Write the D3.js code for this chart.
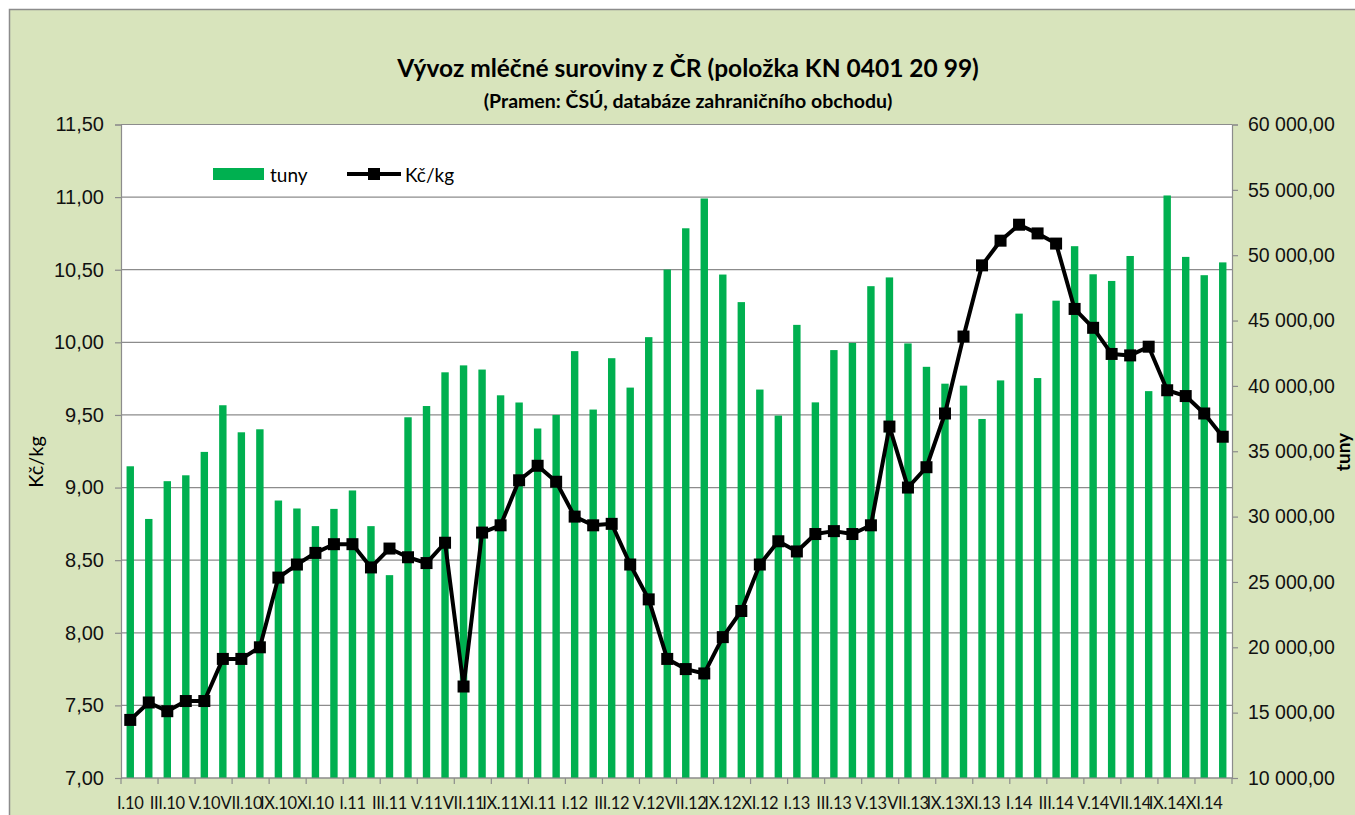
<!DOCTYPE html>
<html>
<head>
<meta charset="utf-8">
<script src="https://cdn.jsdelivr.net/npm/d3@7"></script>
<style>
  body { margin: 0; background: #fff; }
  svg { display: block; font-family: Lato, "Noto Sans", sans-serif; }
  .grid line { stroke: #8c8c8c; stroke-width: 1.2; }
  .axis path, .axis line { stroke: #8c8c8c; stroke-width: 1.2; }
  .axis text { fill: #111; }
</style>
</head>
<body>
<script>
var width = 1355,
    height = 815;

// months I.10 .. XII.14
var roman = ["I", "II", "III", "IV", "V", "VI", "VII", "VIII", "IX", "X", "XI", "XII"];
var years = ["10", "11", "12", "13", "14"];
var months = [];
years.forEach(function(y) {
  roman.forEach(function(r) { months.push(r + "." + y); });
});

// export volume, tonnes (right axis)
var tuny = [33850, 29820, 32710, 33160, 34950, 38520, 36450, 36680, 31230, 30620,
            29270, 30590, 32000, 29270, 25520, 37600, 38460, 41040, 41570, 41250,
            39280, 38730, 36740, 37780, 42660, 38190, 42120, 39870, 43730, 48900,
            52060, 54340, 48520, 46410, 39720, 37730, 44670, 38740, 42740, 43290,
            47630, 48300, 43250, 41460, 40170, 40020, 37470, 40420, 45530, 40600,
            46520, 50690, 48540, 48030, 49940, 39600, 54570, 49870, 48470, 49450];

// price, Kč/kg (left axis)
var kc = [7.40, 7.52, 7.46, 7.53, 7.53, 7.82, 7.82, 7.90, 8.38, 8.47,
          8.55, 8.61, 8.61, 8.45, 8.58, 8.52, 8.48, 8.62, 7.63, 8.69,
          8.74, 9.05, 9.15, 9.04, 8.80, 8.74, 8.75, 8.47, 8.23, 7.82,
          7.75, 7.72, 7.97, 8.15, 8.47, 8.63, 8.56, 8.68, 8.70, 8.68,
          8.74, 9.42, 9.00, 9.14, 9.51, 10.04, 10.53, 10.70, 10.81, 10.75,
          10.68, 10.23, 10.10, 9.92, 9.91, 9.97, 9.67, 9.63, 9.51, 9.35];

var leftTicks = d3.range(7, 11.51, 0.5);
var rightTicks = d3.range(10000, 60001, 5000);

var cz = d3.formatLocale({decimal: ",", thousands: "\u00a0", grouping: [3], currency: ["", " Kč"]});
var fmt = cz.format(",.2f");

var plot = {left: 121, right: 1232, top: 124.5, bottom: 778};

var x = d3.scaleBand()
    .domain(months)
    .range([plot.left, plot.right])
    .paddingInner(0.6)
    .paddingOuter(0.3);

var yL = d3.scaleLinear().domain([7, 11.5]).range([plot.bottom, plot.top]);
var yR = d3.scaleLinear().domain([10000, 60000]).range([plot.bottom, plot.top]);

var svg = d3.select("body").append("svg")
    .attr("width", width)
    .attr("height", height);

// chart frame
svg.append("rect")
    .attr("x", 9.5).attr("y", 9.5)
    .attr("width", 1400).attr("height", 900)
    .attr("fill", "#d8e4bc")
    .attr("stroke", "#8c8c8c")
    .attr("stroke-width", 1.5);

svg.append("rect")
    .attr("x", plot.left).attr("y", plot.top)
    .attr("width", plot.right - plot.left)
    .attr("height", plot.bottom - plot.top)
    .attr("fill", "#fff");

// horizontal grid on the left axis
svg.append("g")
    .attr("class", "grid")
    .selectAll("line")
    .data(leftTicks)
    .enter()
    .append("line")
    .attr("x1", plot.left).attr("x2", plot.right)
    .attr("y1", function(d) { return yL(d); })
    .attr("y2", function(d) { return yL(d); });

// bars
svg.append("g")
    .selectAll("rect")
    .data(tuny)
    .enter()
    .append("rect")
    .attr("x", function(d, i) { return x(months[i]); })
    .attr("y", function(d) { return yR(d); })
    .attr("width", x.bandwidth())
    .attr("height", function(d) { return plot.bottom - yR(d); })
    .attr("fill", "#00b050");

// price line
var line = d3.line()
    .x(function(d, i) { return x(months[i]) + x.bandwidth() / 2; })
    .y(function(d) { return yL(d); });

svg.append("path")
    .datum(kc)
    .attr("d", line)
    .attr("fill", "none")
    .attr("stroke", "#000")
    .attr("stroke-width", 4)
    .attr("stroke-linejoin", "round");

var ms = 12;
svg.append("g")
    .selectAll("rect")
    .data(kc)
    .enter()
    .append("rect")
    .attr("x", function(d, i) { return x(months[i]) + x.bandwidth() / 2 - ms / 2; })
    .attr("y", function(d) { return yL(d) - ms / 2; })
    .attr("width", ms)
    .attr("height", ms)
    .attr("fill", "#000");

// axes
var axL = svg.append("g")
    .attr("class", "axis")
    .attr("transform", "translate(" + plot.left + ",0)")
    .call(d3.axisLeft(yL).tickValues(leftTicks).tickFormat(fmt).tickSizeOuter(0).tickSize(6).tickPadding(11));
axL.selectAll("text").style("font-size", "20px");

var axR = svg.append("g")
    .attr("class", "axis")
    .attr("transform", "translate(" + plot.right + ",0)")
    .call(d3.axisRight(yR).tickValues(rightTicks).tickFormat(fmt).tickSizeOuter(0).tickSize(6).tickPadding(10));
axR.selectAll("text").style("font-size", "19.5px");

// x axis: ticks every second month, labels on every second month
var axX = svg.append("g")
    .attr("class", "axis")
    .attr("transform", "translate(0," + plot.bottom + ")");
axX.append("line")
    .attr("x1", plot.left).attr("x2", plot.right);
axX.selectAll(".tick")
    .data(d3.range(0, months.length + 1, 2))
    .enter()
    .append("line")
    .attr("x1", function(i) { return plot.left + i * x.step(); })
    .attr("x2", function(i) { return plot.left + i * x.step(); })
    .attr("y1", 0).attr("y2", 6);
axX.selectAll("text")
    .data(months.filter(function(d, i) { return i % 2 === 0; }))
    .enter()
    .append("text")
    .attr("x", function(d) { return x(d) + x.bandwidth() / 2; })
    .attr("y", 31)
    .attr("text-anchor", "middle")
    .style("font-size", "16.5px")
    .style("letter-spacing", "-0.3px")
    .text(function(d) { return d; });

// titles
svg.append("text")
    .attr("x", 688).attr("y", 77)
    .attr("text-anchor", "middle")
    .style("font-size", "24.5px").style("font-weight", "bold")
    .text("Vývoz mléčné suroviny z ČR (položka KN 0401 20 99)");

svg.append("text")
    .attr("x", 688).attr("y", 108)
    .attr("text-anchor", "middle")
    .style("font-size", "19.5px").style("font-weight", "bold")
    .text("(Pramen: ČSÚ, databáze zahraničního obchodu)");

svg.append("text")
    .attr("transform", "translate(43,462) rotate(-90)")
    .attr("text-anchor", "middle")
    .style("font-size", "20px")
    .text("Kč/kg");

svg.append("text")
    .attr("transform", "translate(1350,452) rotate(-90)")
    .attr("text-anchor", "middle")
    .style("font-size", "19px").style("font-weight", "bold")
    .text("tuny");

// legend
var lg = svg.append("g");
lg.append("rect")
    .attr("x", 213).attr("y", 168)
    .attr("width", 51).attr("height", 12)
    .attr("fill", "#00b050");
lg.append("text")
    .attr("x", 270).attr("y", 182)
    .style("font-size", "19px")
    .text("tuny");
lg.append("line")
    .attr("x1", 347).attr("x2", 401)
    .attr("y1", 174).attr("y2", 174)
    .attr("stroke", "#000").attr("stroke-width", 4);
lg.append("rect")
    .attr("x", 374 - ms / 2).attr("y", 174 - ms / 2)
    .attr("width", ms).attr("height", ms)
    .attr("fill", "#000");
lg.append("text")
    .attr("x", 405).attr("y", 182)
    .style("font-size", "19px")
    .text("Kč/kg");
</script>
</body>
</html>
